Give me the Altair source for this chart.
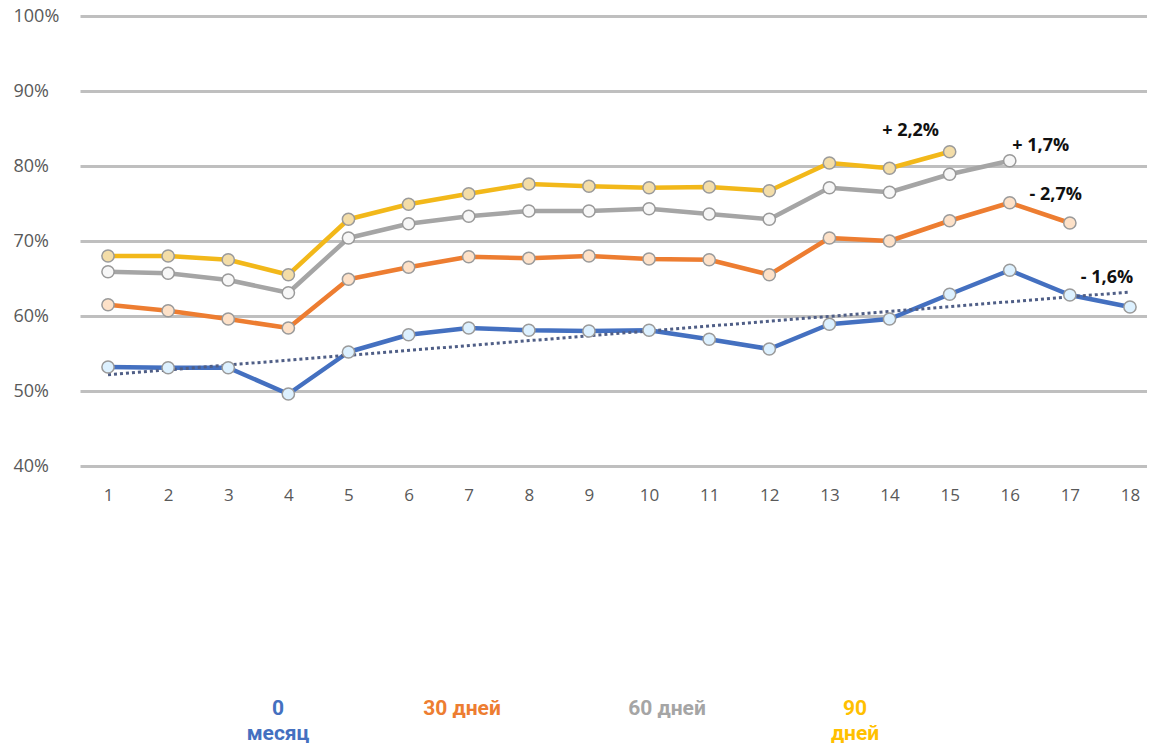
import altair as alt
import pandas as pd

months = list(range(1, 19))
series_names = ["0 месяц", "30 дней", "60 дней", "90 дней"]
blue = [53.2, 53.1, 53.1, 49.6, 55.2, 57.5, 58.4, 58.1, 58.0, 58.1, 56.9, 55.6, 58.9, 59.6, 62.9, 66.1, 62.8, 61.2]
orange = [61.5, 60.7, 59.6, 58.4, 64.9, 66.5, 67.9, 67.7, 68.0, 67.6, 67.5, 65.5, 70.4, 70.0, 72.7, 75.1, 72.4]
gray = [65.9, 65.7, 64.8, 63.1, 70.4, 72.3, 73.3, 74.0, 74.0, 74.3, 73.6, 72.9, 77.1, 76.5, 78.9, 80.7]
yellow = [68.0, 68.0, 67.5, 65.5, 72.9, 74.9, 76.3, 77.6, 77.3, 77.1, 77.2, 76.7, 80.4, 79.7, 81.9]
annotations = ["+ 2,2%", "+ 1,7%", "- 2,7%", "- 1,6%"]
y_ticks = [40, 50, 60, 70, 80, 90, 100]

line_colors = ["#4470C0", "#ED7D31", "#A5A5A5", "#F2B81A"]
fill_colors = ["#DDF1FF", "#FDE1C8", "#F7F7F7", "#F3DDA8"]

rows = []
for name, vals in zip(series_names, [blue, orange, gray, yellow]):
    for m, v in zip(months, vals):
        rows.append({"month": m, "value": v, "series": name})
df = pd.DataFrame(rows)

W, H = 1067, 450
xs = alt.Scale(domain=[0.534, 18.283], nice=False, zero=False)
ys = alt.Scale(domain=[40, 100], nice=False, zero=False)

base = alt.Chart(df)

x_enc = alt.X("month:Q", scale=xs, axis=alt.Axis(
    values=months, grid=False, domain=False, ticks=False, labelPadding=29, labelBaseline="middle",
    labelFont="Open Sans", labelFontSize=17, labelColor="#595959", title=None, format="d"))
y_enc = alt.Y("value:Q", scale=ys, axis=alt.Axis(
    values=y_ticks, grid=True, gridColor="#BFBFBF", gridWidth=3, domain=False, ticks=False,
    labelPadding=67, labelAlign="left", labelFont="Open Sans", labelFontSize=18, labelColor="#595959",
    labelExpr="datum.value + '%'", title=None))

lines = base.mark_line(strokeWidth=4.5, strokeJoin="round").encode(
    x=x_enc, y=y_enc,
    stroke=alt.Stroke("series:N", scale=alt.Scale(domain=series_names, range=line_colors), legend=None),
    detail="series:N",
)

trend = base.transform_filter(alt.datum.series == series_names[0]).transform_regression(
    "month", "value", extent=[1, 18]
).mark_line(strokeDash=[3, 3], strokeWidth=3, color="#4F5E86").encode(
    x=alt.X("month:Q", scale=xs), y=alt.Y("value:Q", scale=ys)
)

points = base.mark_point(filled=True, size=150, stroke="#9A9A9A", strokeWidth=1.5, opacity=1).encode(
    x=alt.X("month:Q", scale=xs), y=alt.Y("value:Q", scale=ys),
    fill=alt.Fill("series:N", scale=alt.Scale(domain=series_names, range=fill_colors), legend=None),
)

# annotations anchored on the last relevant points of each series
ann_specs = [
    (series_names[3], 15, annotations[0], -39, -21),
    (series_names[2], 16, annotations[1], 31, -15),
    (series_names[1], 16, annotations[2], 46, -8),
    (series_names[0], 18, annotations[3], -23, -29),
]
ann_layers = []
for s, m, txt, dx, dy in ann_specs:
    ann_layers.append(
        base.transform_filter((alt.datum.series == s) & (alt.datum.month == m)).mark_text(
            dx=dx, dy=dy, font="Open Sans", fontWeight="bold", fontSize=18, color="#111111"
        ).encode(x=alt.X("month:Q", scale=xs), y=alt.Y("value:Q", scale=ys), text=alt.value(txt))
    )

# legend texts below the chart
leg_specs = [
    ("0\nмесяц", line_colors[0], 198),
    ("30 дней", "#ED7D31", 382),
    ("60 дней", "#A5A5A5", 587),
    ("90\nдней", "#FFC000", 775),
]
leg_layers = []
for txt, col, px in leg_specs:
    leg_layers.append(
        alt.Chart(pd.DataFrame({"t": [txt]})).mark_text(
            font="Roboto", fontWeight="bold", fontSize=21, color=col, lineBreak="\n",
            lineHeight=25, baseline="middle", align="center"
        ).encode(x=alt.value(px), y=alt.value(693), text="t:N")
    )

chart = alt.layer(lines, trend, points, *ann_layers, *leg_layers).properties(
    width=W, height=H,
    padding={"left": 72, "top": 8, "right": 0, "bottom": 277},
    autosize=alt.AutoSizeParams(type="none"),
    background="white",
).configure_view(stroke=None)

chart.save("out.html", embed_options={"renderer": "svg", "actions": False})
